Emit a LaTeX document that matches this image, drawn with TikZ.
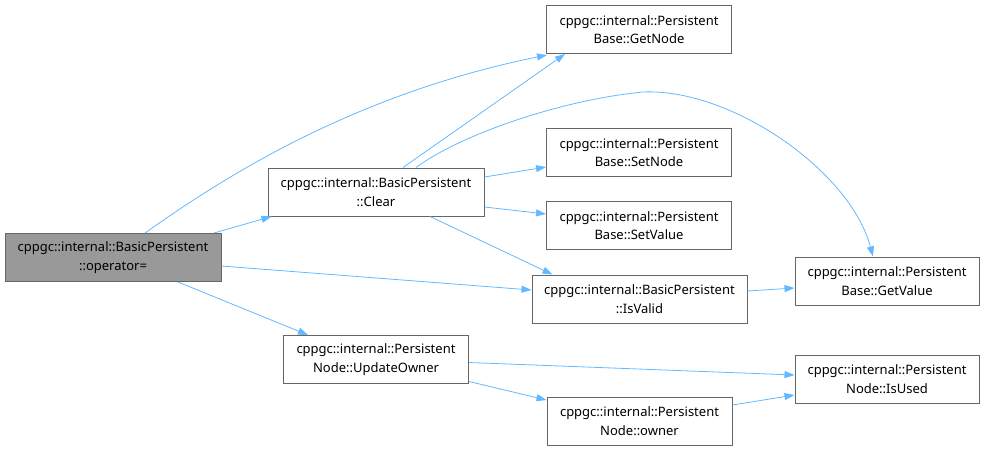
\documentclass[tikz,border=0pt]{standalone}
\usepackage{fontspec}
\setmainfont{Noto Sans}
\usetikzlibrary{arrows.meta}
\definecolor{edgeblue}{HTML}{63B8FF}
\definecolor{boxline}{HTML}{666666}
\definecolor{rootgray}{HTML}{999999}
\tikzset{
    fn/.style={
        draw=boxline,
        fill=white,
        line width=1pt,
        minimum height=48pt,
        inner sep=0pt,
        align=center,
        font=\fontsize{13}{18.5}\selectfont
    },
    root fn/.style={
        fn,
        fill=rootgray
    },
    call/.style={
        -{Triangle[length=10pt,width=7pt]},
        draw=edgeblue,
        line width=0.8pt
    }
}

\begin{document}
\begin{tikzpicture}[x=1pt, y=-1pt]
    \useasboundingbox (0,0) rectangle (985,451);

    % -------------------------------------------------------------------------
    % Functions.
    % -------------------------------------------------------------------------
    \node[root fn, minimum width=216pt] (op) at (113,257.5)
        {cppgc::internal::BasicPersistent\\::operator=};
    \node[fn, minimum width=216pt] (clear) at (376,192)
        {cppgc::internal::BasicPersistent\\::Clear};
    \node[fn, minimum width=185pt] (getnode) at (639,29.5)
        {cppgc::internal::Persistent\\Base::GetNode};
    \node[fn, minimum width=185pt] (setnode) at (639,152.5)
        {cppgc::internal::Persistent\\Base::SetNode};
    \node[fn, minimum width=185pt] (setvalue) at (639,225.5)
        {cppgc::internal::Persistent\\Base::SetValue};
    \node[fn, minimum width=215pt] (isvalid) at (639.5,299)
        {cppgc::internal::BasicPersistent\\::IsValid};
    \node[fn, minimum width=184pt] (getvalue) at (887,281)
        {cppgc::internal::Persistent\\Base::GetValue};
    \node[fn, minimum width=185pt] (updateowner) at (376,359.5)
        {cppgc::internal::Persistent\\Node::UpdateOwner};
    \node[fn, minimum width=185pt] (owner) at (639.5,421)
        {cppgc::internal::Persistent\\Node::owner};
    \node[fn, minimum width=184pt] (isused) at (887,379)
        {cppgc::internal::Persistent\\Node::IsUsed};

    % -------------------------------------------------------------------------
    % Calls.
    % -------------------------------------------------------------------------
    \draw[call] ([xshift=32pt]op.north) .. controls (220,180) and (350,95)
        .. ([xshift=1pt,yshift=-1pt]getnode.south west);
    \draw[call] ([xshift=101pt]op.north) -- ([xshift=4pt]clear.south west);
    \draw[call] ([yshift=-8.5pt]op.east) -- ([yshift=9pt]isvalid.west);
    \draw[call] ([xshift=65pt]op.south) -- ([xshift=-68pt]updateowner.north);

    \draw[call] ([xshift=27pt]clear.north) -- ([xshift=-74pt]getnode.south);
    \draw[call] ([xshift=40pt]clear.north) .. controls (460,135) and (560,100)
        .. (643,92) .. controls (730,88) and (850,170)
        .. ([xshift=-14pt]getvalue.north);
    \draw[call] ([yshift=15pt]clear.east) -- ([yshift=-14.5pt]setnode.west);
    \draw[call] ([yshift=-15pt]clear.east) -- ([yshift=11.5pt]setvalue.west);
    \draw[call] ([xshift=54pt]clear.south) -- ([xshift=-87pt]isvalid.north);

    \draw[call] ([yshift=8pt]isvalid.east) -- ([yshift=-7pt]getvalue.west);

    \draw[call] ([yshift=-3pt]updateowner.east) -- ([yshift=4pt]isused.west);
    \draw[call] ([yshift=-22pt]updateowner.east) -- ([yshift=21pt]owner.west);
    \draw[call] ([yshift=16pt]owner.east) -- ([yshift=-16pt]isused.west);

\end{tikzpicture}
\end{document}
